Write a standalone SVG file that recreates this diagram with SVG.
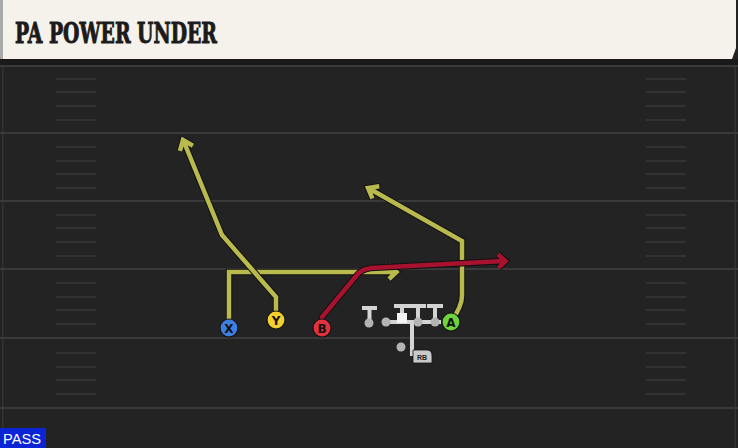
<svg xmlns="http://www.w3.org/2000/svg" width="738" height="448" viewBox="0 0 738 448">
<style>
.yl{stroke:#3a3a3a;stroke-width:2;}
.hm{stroke:#383838;stroke-width:1.6;}
.o{fill:none;stroke:#111;stroke-width:6.5;stroke-linejoin:miter;stroke-linecap:butt;}
.ry{fill:none;stroke:#b9b94e;stroke-width:4.5;stroke-linejoin:miter;}
.rr{fill:none;stroke:#a8122e;stroke-width:4.5;stroke-linejoin:miter;}
.blk{fill:none;stroke:#d4d4d4;stroke-width:4;stroke-linecap:butt;}
.ol{fill:#b4b4b4;}
.pl{stroke:#151515;stroke-width:1.2;}
.lt{font-family:"DejaVu Sans","Liberation Sans",sans-serif;font-weight:bold;font-size:12px;fill:#111;text-anchor:middle;}
</style>
<rect x="0" y="0" width="738" height="448" fill="#232323"/>
<rect x="0" y="59" width="738" height="7" fill="#1a1a1a"/>
<rect x="2" y="66" width="1.5" height="382" fill="#333"/>
<rect x="734.5" y="66" width="1.5" height="382" fill="#333"/>
<g id="field">
<line class="yl" x1="0" y1="66" x2="738" y2="66"/>
<line class="yl" x1="0" y1="133" x2="738" y2="133"/>
<line class="yl" x1="0" y1="201" x2="738" y2="201"/>
<line class="yl" x1="0" y1="269" x2="738" y2="269"/>
<line class="yl" x1="0" y1="338" x2="738" y2="338"/>
<line class="yl" x1="0" y1="408" x2="738" y2="408"/>
<g class="hm">
<line x1="56" y1="79" x2="96" y2="79"/><line x1="56" y1="92" x2="96" y2="92"/><line x1="56" y1="106" x2="96" y2="106"/><line x1="56" y1="120" x2="96" y2="120"/>
<line x1="56" y1="147" x2="96" y2="147"/><line x1="56" y1="161" x2="96" y2="161"/><line x1="56" y1="174" x2="96" y2="174"/><line x1="56" y1="188" x2="96" y2="188"/>
<line x1="56" y1="215" x2="96" y2="215"/><line x1="56" y1="228" x2="96" y2="228"/><line x1="56" y1="242" x2="96" y2="242"/><line x1="56" y1="256" x2="96" y2="256"/>
<line x1="56" y1="283" x2="96" y2="283"/><line x1="56" y1="297" x2="96" y2="297"/><line x1="56" y1="310" x2="96" y2="310"/><line x1="56" y1="324" x2="96" y2="324"/>
<line x1="56" y1="353" x2="96" y2="353"/><line x1="56" y1="367" x2="96" y2="367"/><line x1="56" y1="380" x2="96" y2="380"/><line x1="56" y1="394" x2="96" y2="394"/>
<line x1="646" y1="79" x2="686" y2="79"/><line x1="646" y1="92" x2="686" y2="92"/><line x1="646" y1="106" x2="686" y2="106"/><line x1="646" y1="120" x2="686" y2="120"/>
<line x1="646" y1="147" x2="686" y2="147"/><line x1="646" y1="161" x2="686" y2="161"/><line x1="646" y1="174" x2="686" y2="174"/><line x1="646" y1="188" x2="686" y2="188"/>
<line x1="646" y1="215" x2="686" y2="215"/><line x1="646" y1="228" x2="686" y2="228"/><line x1="646" y1="242" x2="686" y2="242"/><line x1="646" y1="256" x2="686" y2="256"/>
<line x1="646" y1="283" x2="686" y2="283"/><line x1="646" y1="297" x2="686" y2="297"/><line x1="646" y1="310" x2="686" y2="310"/><line x1="646" y1="324" x2="686" y2="324"/>
<line x1="646" y1="353" x2="686" y2="353"/><line x1="646" y1="367" x2="686" y2="367"/><line x1="646" y1="380" x2="686" y2="380"/><line x1="646" y1="394" x2="686" y2="394"/>
</g>
</g>
<g id="header">
<polygon points="3,0 736,0 736,48 732,59 3,59" fill="#f5f2eb"/>
<rect x="0" y="0" width="3" height="59" fill="#a9a9a9"/>
<text x="15" y="43" font-family="'DejaVu Serif','Liberation Serif',serif" font-weight="bold" font-size="28" fill="#1b1b1b" stroke="#1b1b1b" stroke-width="1" textLength="202" lengthAdjust="spacingAndGlyphs">PA POWER UNDER</text>
</g>
<g id="connectors">
<path class="o" d="M229,328 V272 H395 M389,265 L396.5,272 L389,279"/>
<path class="ry" d="M229,328 V272 H395 M389,265 L396.5,272 L389,279"/>
<path class="o" d="M276,320 V297 L222,235 L184,142 M192.9,145.7 L183,140 L179.9,150.9"/>
<path class="ry" d="M276,320 V297 L222,235 L184,142 M192.9,145.7 L183,140 L179.9,150.9"/>
<path class="o" d="M451,322 Q462,306 462,296 V241 L370,189 M379.2,186.3 L368,188 L372.4,198.5"/>
<path class="ry" d="M451,322 Q462,306 462,296 V241 L370,189 M379.2,186.3 L368,188 L372.4,198.5"/>
<path class="o" d="M322,328 V317 L357,275 Q362,269 371,268 L504,261 M498,254.5 L505.5,261 L498.5,268"/>
<path class="rr" d="M322,328 V317 L357,275 Q362,269 371,268 L504,261 M498,254.5 L505.5,261 L498.5,268"/>
</g>
<g id="line">
<path class="blk" d="M362,308 H377 M369.5,308 V321 M394,306 H410 M402,306 V318 M410,306 H426 M418,306 V321 M427,306 H443 M435,306 V321 M386,322 H441 M412,322 V356"/>
<circle class="ol" cx="369" cy="323" r="4.5"/>
<circle class="ol" cx="386" cy="322" r="4.5"/>
<rect x="397" y="313" width="10" height="10" fill="#f4f4f4"/>
<circle class="ol" cx="418" cy="322" r="4.5"/>
<circle class="ol" cx="435" cy="322" r="4.5"/>
<circle class="ol" cx="401" cy="347" r="4.5"/>
<path d="M413,350 H427 Q432,350 432,356 V363 H413 Z" fill="#c9c9c9" stroke="#111" stroke-width="0.8"/>
<text x="422" y="360" font-family="'Liberation Sans',sans-serif" font-size="7" font-weight="bold" fill="#222" text-anchor="middle">RB</text>
</g>
<g id="X"><circle class="pl" cx="229" cy="328" r="9" fill="#3d7fe0"/><text class="lt" x="229" y="332.5">X</text></g>
<g id="Y"><circle class="pl" cx="276" cy="320" r="9" fill="#f3cf2b"/><text class="lt" x="276" y="324.5">Y</text></g>
<g id="B"><circle class="pl" cx="322" cy="328" r="9" fill="#e3323c"/><text class="lt" x="322" y="332.5">B</text></g>
<g id="A"><circle class="pl" cx="451" cy="322" r="9" fill="#6dd43b"/><text class="lt" x="451" y="326.5">A</text></g>
<g id="pass">
<rect x="0" y="428" width="46" height="20" fill="#0b24d6"/>
<text x="3" y="444" font-family="'Liberation Sans',sans-serif" font-size="14" fill="#fff" textLength="38" lengthAdjust="spacingAndGlyphs">PASS</text>
</g>
</svg>
